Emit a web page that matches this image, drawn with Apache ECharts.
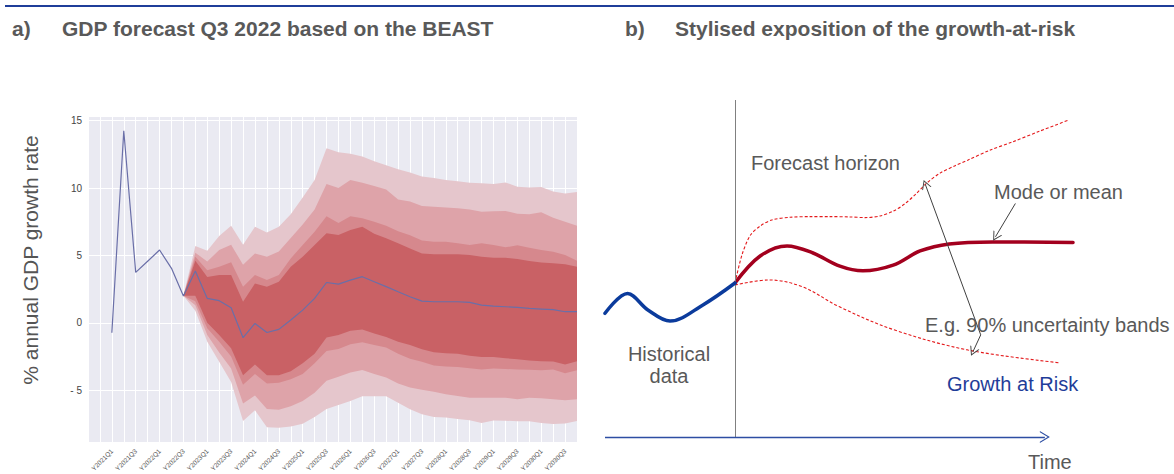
<!DOCTYPE html>
<html><head><meta charset="utf-8">
<script src="https://cdn.jsdelivr.net/npm/echarts@6/dist/echarts.min.js"></script>
<style>html,body{margin:0;padding:0;background:#fff}#c{width:1174px;height:474px}</style>
</head><body><div id="c"></div>
<script>
// ---------- Panel a) data ----------
const categories = ['Y2021Q1','Y2021Q2','Y2021Q3','Y2021Q4','Y2022Q1','Y2022Q2','Y2022Q3','Y2022Q4',
  'Y2023Q1','Y2023Q2','Y2023Q3','Y2023Q4','Y2024Q1','Y2024Q2','Y2024Q3','Y2024Q4',
  'Y2025Q1','Y2025Q2','Y2025Q3','Y2025Q4','Y2026Q1','Y2026Q2','Y2026Q3','Y2026Q4',
  'Y2027Q1','Y2027Q2','Y2027Q3','Y2027Q4','Y2028Q1','Y2028Q2','Y2028Q3','Y2028Q4',
  'Y2029Q1','Y2029Q2','Y2029Q3','Y2029Q4','Y2030Q1','Y2030Q2','Y2030Q3','Y2030Q4'];
const median = [-0.74, 14.26, 3.74, 4.57, 5.4, 4.04, 1.98, 3.84, 1.81, 1.64, 1.12, -1.11, -0.05, -0.72, -0.49, 0.2, 0.94, 1.81,
  2.99, 2.87, 3.17, 3.42, 3.05, 2.68, 2.3, 1.93, 1.61, 1.56, 1.56, 1.56, 1.51, 1.31, 1.24, 1.19, 1.14, 1.07, 1.02, 0.97, 0.82, 0.82];
const fanStart = 6; // fan begins at Y2022Q3
const upper4 = [2.0, 5.7, 5.35, 6.45, 7.2, 5.8, 7.13, 6.71, 7.13, 8.05, 9.3, 10.6, 12.95, 12.65, 12.55, 12.35, 12.0, 11.7, 11.4, 11.15, 10.85, 10.75, 10.6, 10.5, 10.4, 10.35, 10.3, 10.42, 10.1, 10.05, 10.08, 9.75, 9.6, 9.7];
const upper3 = [2.0, 5.2, 4.55, 5.4, 5.8, 4.3, 5.15, 4.9, 5.3, 6.3, 7.3, 8.4, 10.3, 10.0, 10.6, 10.4, 10.15, 9.9, 9.15, 9.0, 8.67, 8.62, 8.55, 8.5, 8.4, 8.25, 8.28, 8.3, 8.1, 8.05, 8.2, 7.8, 7.5, 7.2];
const upper2 = [2.0, 4.9, 3.9, 4.16, 4.5, 2.67, 3.54, 3.17, 3.54, 4.78, 5.77, 6.76, 7.9, 7.4, 7.9, 7.75, 7.5, 7.2, 6.8, 6.5, 6.1, 6.02, 6.02, 5.9, 5.77, 5.9, 5.77, 5.6, 5.75, 5.57, 5.4, 5.28, 5.03, 4.6];
const upper1 = [2.0, 4.6, 3.4, 3.54, 3.54, 1.56, 2.92, 2.67, 3.05, 4.16, 4.9, 5.77, 6.64, 6.51, 6.89, 7.13, 6.6, 6.27, 5.9, 5.52, 5.15, 5.08, 5.08, 5.08, 5.03, 4.9, 4.83, 4.83, 4.73, 4.58, 4.48, 4.41, 4.34, 4.16];
const lower1 = [2.0, 2.0, 0.0, -0.9, -1.9, -3.9, -3.1, -3.9, -3.9, -3.6, -3.0, -2.3, -1.1, -0.9, -0.6, -0.5, -0.8, -1.05, -1.4, -1.65, -1.97, -2.19, -2.27, -2.3, -2.44, -2.54, -2.54, -2.63, -2.7, -2.8, -2.85, -2.88, -3.1, -2.85];
const lower2 = [2.0, 1.6, -0.4, -1.4, -2.5, -4.6, -3.8, -4.5, -4.45, -4.2, -3.8, -3.0, -2.1, -1.95, -1.6, -1.45, -1.65, -1.84, -2.3, -2.68, -2.9, -3.18, -3.25, -3.28, -3.37, -3.46, -3.4, -3.43, -3.46, -3.49, -3.52, -3.47, -3.74, -3.52];
const lower3 = [2.0, 1.3, -0.9, -2.2, -3.4, -6.0, -5.4, -6.4, -6.45, -6.2, -5.8, -5.2, -4.3, -4.0, -3.7, -3.5, -3.8, -4.07, -4.5, -4.8, -4.97, -5.13, -5.3, -5.43, -5.56, -5.56, -5.56, -5.56, -5.68, -5.56, -5.6, -5.68, -5.76, -5.68];
const lower4 = [2.0, 0.9, -1.4, -2.9, -4.4, -7.3, -6.5, -7.75, -7.8, -7.7, -7.5, -7.0, -6.4, -6.1, -5.8, -5.45, -5.45, -5.45, -5.93, -6.42, -6.8, -7.0, -7.04, -7.14, -7.23, -7.45, -7.25, -7.27, -7.32, -7.32, -7.44, -7.52, -7.48, -7.3];

// ---------- Panel b) stylised curves (time units, level units) ----------
const histTime  = [0, 5.2, 9.9, 15.0, 22.6, 30.0];
const histLevel = [36.7, 42.6, 37.7, 34.4, 39.2, 45.7];
const meanTime  = [30.0, 35.8, 42.0, 48.0, 54.2, 59.5, 66.5, 72.7, 79.4, 89.5, 108.0];
const meanLevel = [45.7, 53.7, 56.7, 54.6, 50.7, 49.3, 51.0, 55.2, 57.3, 57.9, 57.7];
const upperTime  = [30.0, 31.6, 33.5, 35.8, 38.5, 42.7, 47.3, 51.9, 56.5, 60.0, 63.5, 66.5, 69.2, 71.8, 74.3, 77.3, 80.8, 83.8, 88.8, 93.9, 100.4, 107.1];
const upperLevel = [45.7, 54.0, 59.8, 62.6, 64.4, 65.2, 65.4, 65.4, 65.3, 65.1, 65.6, 67.0, 69.2, 72.2, 75.4, 78.3, 80.5, 82.2, 85.1, 87.5, 90.8, 94.1];
const lowerTime  = [30.0, 37.8, 45.5, 54.0, 66.7, 83.8, 105.0];
const lowerLevel = [45.1, 46.6, 44.6, 38.7, 31.8, 25.8, 22.0];
const forecastStart = 30;
const timeAxisEnd = 101.5;
const bandArrow = [[73.9, 75.0], [86.7, 30.3], [84.9, 25.3]];
const modeArrow = [[94.7, 69.3], [90.1, 59.4]];

const FONT = '"Liberation Sans", Arial, sans-serif';
const GREY = '#595959';
const chevron = 'path://M0,12 L6,0 L12,12 L10.7,12 L6,2.6 L1.3,12 Z';

const series = [];
const bandColors = ['#e5c6cc', '#dea3a9', '#d6888d', '#c96165'];
function bandSeries(lo, hi, color, z) {
  const rows = lo.map((v, i) => [fanStart + i, v, hi[i]]);
  return {type: 'custom', xAxisIndex: 0, yAxisIndex: 0, data: rows, silent: true, z: z,
    encode: {x: 0, y: [1, 2]},
    renderItem: function (params, api) {
      if (params.dataIndex !== 0) return null;
      const top = rows.map(r => api.coord([r[0], r[2]]));
      const bot = rows.map(r => api.coord([r[0], r[1]])).reverse();
      return {type: 'polygon', shape: {points: top.concat(bot)}, style: {fill: color, stroke: null}};
    }};
}
[[lower4, upper4], [lower3, upper3], [lower2, upper2], [lower1, upper1]].forEach((b, k) => {
  series.push(bandSeries(b[0], b[1], bandColors[k], 2 + k));
});
series.push({type: 'line', xAxisIndex: 0, yAxisIndex: 0, data: median.map((v, i) => [i, v]),
  symbol: 'none', silent: true, lineStyle: {color: '#6a6fa8', width: 1.2}, z: 10});

const zip = (a, b) => a.map((v, i) => [v, b[i]]);
series.push({type: 'line', xAxisIndex: 1, yAxisIndex: 1, data: zip(upperTime, upperLevel), smooth: 0.3,
  symbol: 'none', silent: true, lineStyle: {color: '#e41a1c', width: 1.1, type: [3, 2]}, z: 3});
series.push({type: 'line', xAxisIndex: 1, yAxisIndex: 1, data: zip(lowerTime, lowerLevel), smooth: 0.35,
  symbol: 'none', silent: true, lineStyle: {color: '#e41a1c', width: 1.1, type: [3, 2]}, z: 3});
series.push({type: 'line', xAxisIndex: 1, yAxisIndex: 1, data: zip(meanTime, meanLevel), smooth: 0.35,
  symbol: 'none', silent: true, lineStyle: {color: '#a3001e', width: 3.5, cap: 'round'}, z: 4});
const arrowLine = {color: '#404040', width: 1, type: 'solid'};
series.push({type: 'line', xAxisIndex: 1, yAxisIndex: 1, data: zip(histTime, histLevel), smooth: 0.35,
  symbol: 'none', silent: true, lineStyle: {color: '#0b3b9c', width: 3.5, cap: 'round'}, z: 5,
  markLine: {silent: true, animation: false, label: {show: false}, symbol: ['none', 'none'],
    data: [
      {xAxis: forecastStart, lineStyle: {color: '#808080', width: 1, type: 'solid'}},
      [{coord: [0, 0], symbol: 'none', lineStyle: {color: '#2d4ea3', width: 1.3, type: 'solid'}},
       {coord: [timeAxisEnd, 0], symbol: chevron, symbolSize: [12, 10]}],
      [{coord: bandArrow[0], symbol: chevron, symbolSize: [10, 9], lineStyle: arrowLine},
       {coord: bandArrow[1], symbol: 'none'}],
      [{coord: bandArrow[1], symbol: 'none', lineStyle: arrowLine},
       {coord: bandArrow[2], symbol: chevron, symbolSize: [10, 9]}],
      [{coord: modeArrow[0], symbol: 'none', lineStyle: arrowLine},
       {coord: modeArrow[1], symbol: chevron, symbolSize: [10, 9]}]
    ]}});

function txt(text, x, y, opts) {
  opts = opts || {};
  return {type: 'text', x: x, y: y, rotation: opts.rotation || 0, silent: true, z: 100,
    style: {text: text, fill: opts.color || GREY, fontSize: opts.size || 20, fontFamily: FONT,
      fontWeight: opts.weight || 'normal', align: opts.align || 'left', verticalAlign: 'middle',
      textAlign: opts.align || 'left', textVerticalAlign: 'middle'}};
}

const option = {
  animation: false,
  backgroundColor: '#ffffff',
  grid: [
    {left: 88, width: 489, top: 116, height: 326, show: true, backgroundColor: '#eaeaf2', borderWidth: 0},
    {left: 605, width: 476.7, top: 100, height: 337, show: false}
  ],
  xAxis: [
    {type: 'value', gridIndex: 0, min: -2, max: 39, interval: 1,
      axisLine: {show: false}, axisTick: {show: false},
      splitLine: {show: true, lineStyle: {color: '#ffffff', width: 1}},
      axisLabel: {rotate: 45, fontSize: 6.5, color: '#555', margin: 8, fontFamily: FONT,
        formatter: v => (v >= 0 && v % 2 === 0 && categories[v]) ? categories[v] : ''}},
    {type: 'value', gridIndex: 1, min: 0, max: 110, show: false}
  ],
  yAxis: [
    {type: 'value', gridIndex: 0, min: -8.85, max: 15.35, splitNumber: 5,
      axisLine: {show: false}, axisTick: {show: false},
      splitLine: {show: true, lineStyle: {color: '#ffffff', width: 1}},
      axisLabel: {fontSize: 10, color: '#444', margin: 6, fontFamily: FONT, showMinLabel: false, showMaxLabel: false,
        formatter: v => v < 0 ? '- ' + (-v) : String(v)}},
    {type: 'value', gridIndex: 1, min: 0, max: 100, show: false}
  ],
  graphic: [
    {type: 'line', silent: true, shape: {x1: 5, y1: 6, x2: 1174, y2: 6}, style: {stroke: '#1f3d99', lineWidth: 2}},
    txt('a)', 12, 28, {weight: 'bold', size: 21}),
    txt('GDP forecast Q3 2022 based on the BEAST', 62, 28, {weight: 'bold', size: 21}),
    txt('b)', 625, 28, {weight: 'bold', size: 21}),
    txt('Stylised exposition of the growth-at-risk', 675, 28, {weight: 'bold', size: 21}),
    txt('% annual GDP growth rate', 30, 260, {rotation: Math.PI / 2, align: 'center', size: 21, color: '#555'}),
    txt('Forecast horizon', 751, 163),
    txt('Mode or mean', 994, 192),
    txt('E.g. 90% uncertainty bands', 925, 325),
    txt('Historical', 669, 354, {align: 'center'}),
    txt('data', 669, 376, {align: 'center'}),
    txt('Growth at Risk', 947, 384, {color: '#1f3d99'}),
    txt('Time', 1028, 462)
  ],
  series: series
};

const chart = echarts.init(document.getElementById('c'), null, {renderer: 'svg', width: 1174, height: 474});
chart.setOption(option);
</script></body></html>
